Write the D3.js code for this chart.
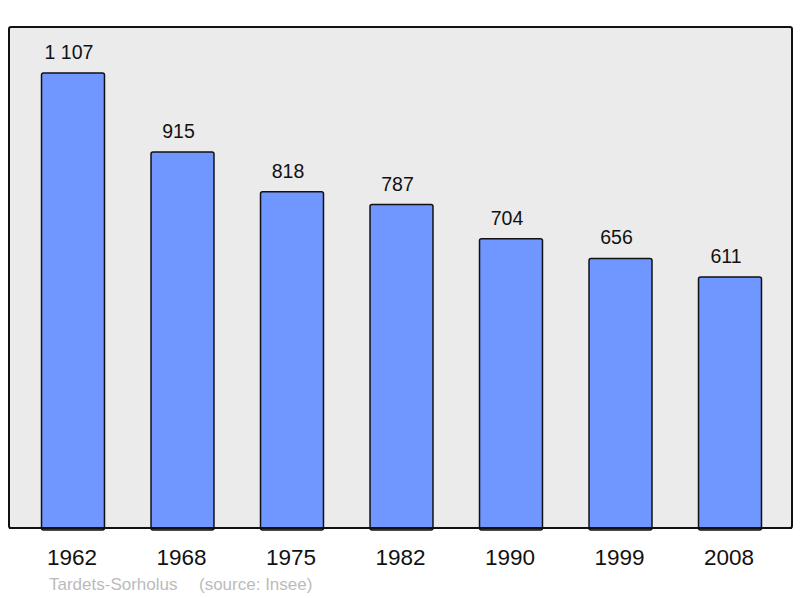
<!DOCTYPE html>
<html><head><meta charset="utf-8">
<script src="https://cdn.jsdelivr.net/npm/d3@7"></script>
<style>body{margin:0;background:#fff;}svg{display:block;}</style>
</head><body>
<script>
const years = ["1962","1968","1975","1982","1990","1999","2008"];
const population = [1107, 915, 818, 787, 704, 656, 611];
const valueLabels = ["1 107","915","818","787","704","656","611"];
const footerName = "Tardets-Sorholus";
const footerSource = "(source: Insee)";

const W = 800, H = 598;
const svg = d3.select("body").append("svg").attr("width", W).attr("height", H);
const font = "'Liberation Sans', Arial, sans-serif";

const panel = {x0: 9, y0: 27, x1: 792, y1: 528};

const x = d3.scaleBand().domain(years).range([18.25, 784.75]).paddingInner(0.425).paddingOuter(0.2125);
const y = d3.scaleLinear().domain([0, 1219]).range([panel.y1, panel.y0]);

svg.append("rect").attr("x", panel.x0).attr("y", panel.y0)
  .attr("width", panel.x1 - panel.x0).attr("height", panel.y1 - panel.y0)
  .attr("rx", 2).attr("fill", "#ebebeb").attr("stroke", "#111").attr("stroke-width", 2);

svg.selectAll("rect.bar").data(years).enter().append("rect").attr("class","bar")
  .attr("x", d => x(d)).attr("width", x.bandwidth())
  .attr("y", (d,i) => y(population[i])).attr("height", (d,i) => y(0) - y(population[i]) + 2)
  .attr("rx", 2).attr("fill", "#7096ff").attr("stroke", "#111").attr("stroke-width", 1.5);

// redraw bottom border over bars
svg.append("line").attr("x1", panel.x0).attr("x2", panel.x1).attr("y1", panel.y1).attr("y2", panel.y1)
  .attr("stroke", "#111").attr("stroke-width", 2);

svg.selectAll("text.val").data(years).enter().append("text").attr("class","val")
  .attr("x", d => x(d) + x.bandwidth()/2 - 4).attr("y", (d,i) => y(population[i]) - 14)
  .attr("text-anchor","middle").attr("font-family", font).attr("font-size", 19.5).attr("fill","#111")
  .text((d,i) => valueLabels[i]);

const xAxis = d3.axisBottom(x).tickSize(0).tickPadding(0);
const gx = svg.append("g").attr("transform", `translate(0,${panel.y1})`).call(xAxis);
gx.select(".domain").remove();
gx.selectAll("text").attr("font-family", font).attr("font-size", 22.5).attr("fill","#111")
  .attr("dy", null).attr("y", 37).attr("dx", -1);

svg.append("text").attr("x", 49).attr("y", 590).attr("font-family", font).attr("font-size", 17)
  .attr("fill", "#bbbbbb").text(footerName);
svg.append("text").attr("x", 199).attr("y", 590).attr("font-family", font).attr("font-size", 17)
  .attr("fill", "#bbbbbb").text(footerSource);
</script>
</body></html>
